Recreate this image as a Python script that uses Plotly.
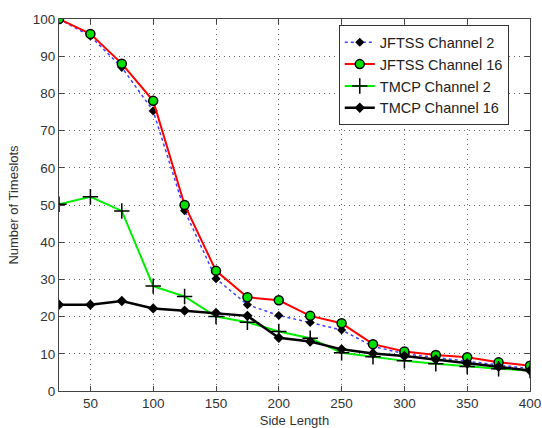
import plotly.graph_objects as go

side_length = [25, 50, 75, 100, 125, 150, 175, 200, 225, 250, 275, 300, 325, 350, 375, 400]
jftss_ch2 = [100, 95.4, 87, 75.3, 48.5, 30.2, 23.2, 20.3, 18.4, 16.4, 12, 10, 9, 8, 7, 6]
jftss_ch16 = [100, 96, 88, 78, 50, 32.3, 25.2, 24.4, 20.2, 18.2, 12.6, 10.6, 9.7, 9.1, 7.7, 6.8]
tmcp_ch2 = [50.2, 52.2, 48.4, 28.2, 25.4, 20, 18.5, 16, 14.2, 10.3, 9.2, 8.1, 7.3, 6.6, 6, 5.5]
tmcp_ch16 = [23.2, 23.2, 24.2, 22.2, 21.6, 21, 20.2, 14.3, 13.3, 11.2, 10.1, 9.4, 8.5, 7.4, 6.5, 5.5]

FONT = "Liberation Sans, Arial, sans-serif"

fig = go.Figure()
fig.add_trace(go.Scatter(
    x=side_length, y=jftss_ch2, name="JFTSS Channel 2", mode="lines+markers",
    line=dict(color="#4040ff", width=1.5, dash="dot"),
    marker=dict(symbol="diamond", size=7, color="black")))
fig.add_trace(go.Scatter(
    x=side_length, y=jftss_ch16, name="JFTSS Channel 16", mode="lines+markers",
    line=dict(color="#ff0000", width=2),
    marker=dict(symbol="circle", size=9, color="#00e000", line=dict(color="black", width=1.5))))
fig.add_trace(go.Scatter(
    x=side_length, y=tmcp_ch2, name="TMCP Channel 2", mode="lines+markers",
    line=dict(color="#00ee00", width=2),
    marker=dict(symbol="cross-thin", size=11, color="black", line=dict(color="black", width=1.5))))
fig.add_trace(go.Scatter(
    x=side_length, y=tmcp_ch16, name="TMCP Channel 16", mode="lines+markers",
    line=dict(color="black", width=2.5),
    marker=dict(symbol="diamond", size=8, color="black")))

axis_common = dict(
    showline=True, linecolor="#444", linewidth=1, mirror="ticks",
    ticks="inside", ticklen=5, tickcolor="#444",
    showgrid=True, gridcolor="#666", griddash="1px,4px", gridwidth=1,
    zeroline=False, tickfont=dict(family=FONT, size=13.5, color="#333"),
    automargin=False,
)

fig.update_xaxes(range=[25, 400], tickvals=[50, 100, 150, 200, 250, 300, 350, 400],
                 title=dict(text="Side Length", font=dict(family=FONT, size=13, color="#333"), standoff=5),
                 **axis_common)
fig.update_yaxes(range=[0, 100], dtick=10,
                 title=dict(text="Number of Timeslots", font=dict(family=FONT, size=13, color="#333"), standoff=11),
                 **axis_common)

fig.update_layout(
    width=542, height=428,
    margin=dict(l=59, r=12, t=19, b=37),
    paper_bgcolor="white", plot_bgcolor="white",
    font=dict(family=FONT, size=13, color="#222"),
    legend=dict(x=0.594, y=0.983, xanchor="left", yanchor="top",
                bgcolor="white", bordercolor="#333", borderwidth=1,
                font=dict(family=FONT, size=14.5, color="#222"),
                tracegroupgap=0, itemsizing="trace"),
    showlegend=True,
)

fig.write_html(
    "out.html",
    config={"displayModeBar": False},
    post_script="document.body.style.margin='0';document.body.style.overflow='hidden';",
)
